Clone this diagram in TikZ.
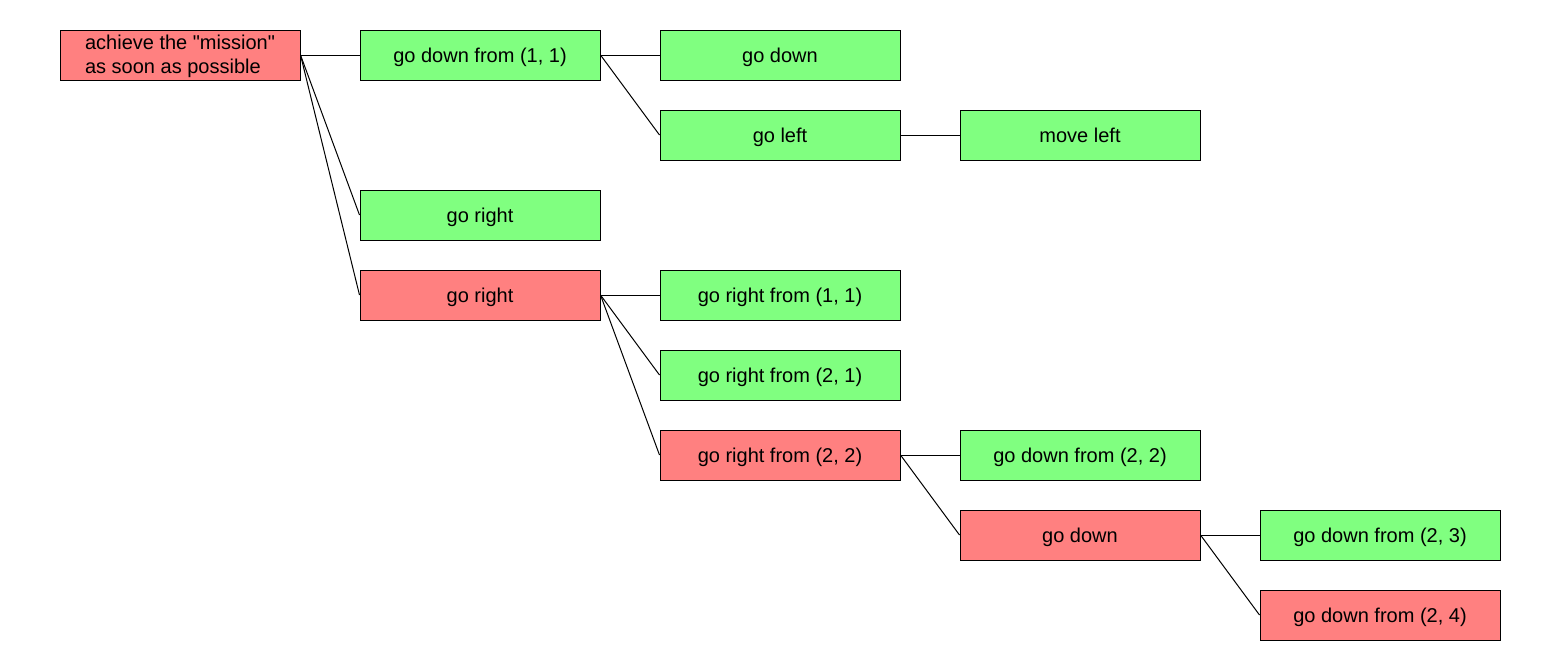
\documentclass[tikz,border=0pt]{standalone}
\usepackage{fontspec}
\setmainfont{Liberation Sans}[Ligatures=TeXOff]
\definecolor{okgreen}{RGB}{128,255,128}
\definecolor{failred}{RGB}{255,128,128}
\begin{document}
\begin{tikzpicture}[x=1pt,y=-1pt,
  goal/.style={draw=black, line width=1pt, minimum width=240pt, minimum height=50pt,
    inner sep=0pt, font=\fontsize{20}{24}\selectfont, text height=16pt, text depth=1.6pt},
  done/.style={goal, fill=okgreen},
  failed/.style={goal, fill=failred},
  link/.style={line width=1pt}]
\useasboundingbox (0,0) rectangle (1560,670);

% column 1 (two-line goal, text lowered slightly without resizing the box)
\node[failed, text height=, text depth=] (root) at (180,55)
  {\raisebox{-1.5pt}[\height][\depth]{\begin{tabular}{@{}l@{}}
    achieve the "mission"\\as soon as possible\end{tabular}}};

% column 2
\node[done]   (a1) at (480,55)  {go down from (1, 1)};
\node[done]   (b1) at (480,215) {go right};
\node[failed] (c1) at (480,295) {go right};

% column 3
\node[done]   (a2) at (780,55)  {go down};
\node[done]   (a3) at (780,135) {go left};
\node[done]   (c2) at (780,295) {go right from (1, 1)};
\node[done]   (c3) at (780,375) {go right from (2, 1)};
\node[failed] (c4) at (780,455) {go right from (2, 2)};

% column 4
\node[done]   (a4) at (1080,135) {move left};
\node[done]   (d1) at (1080,455) {go down from (2, 2)};
\node[failed] (d2) at (1080,535) {go down};

% column 5
\node[done]   (e1) at (1380,535) {go down from (2, 3)};
\node[failed] (e2) at (1380,615) {go down from (2, 4)};

% tree edges
\foreach \p/\c in {root/a1, root/b1, root/c1,
                   a1/a2, a1/a3, a3/a4,
                   c1/c2, c1/c3, c1/c4,
                   c4/d1, c4/d2,
                   d2/e1, d2/e2}
  \draw[link] (\p.east) -- (\c.west);
\end{tikzpicture}
\end{document}
